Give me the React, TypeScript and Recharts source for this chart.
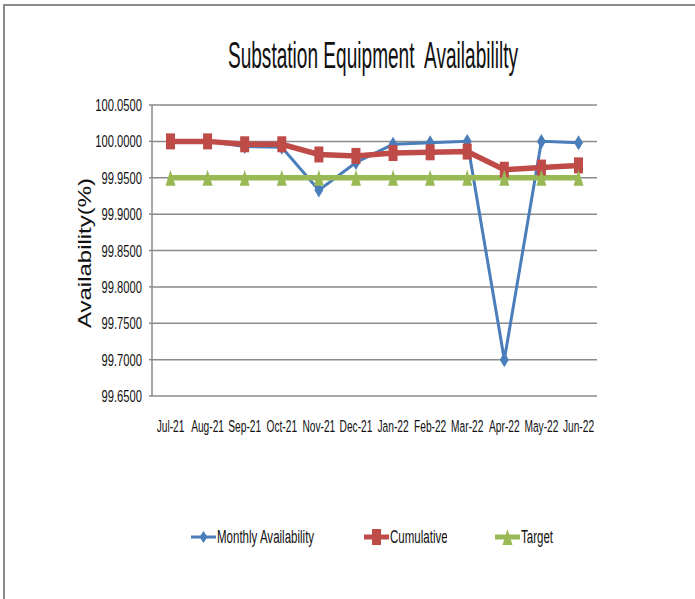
import { LineChart, Line, XAxis, YAxis, CartesianGrid, Legend, Label } from "recharts"

const months = ["Jul-21", "Aug-21", "Sep-21", "Oct-21", "Nov-21", "Dec-21", "Jan-22", "Feb-22", "Mar-22", "Apr-22", "May-22", "Jun-22"]
const monthly = [100.0, 100.0, 99.993, 99.992, 99.933, 99.971, 99.996, 99.998, 100.0, 99.7, 100.0, 99.998]
const cumulative = [100.0, 100.0, 99.996, 99.996, 99.982, 99.98, 99.984, 99.985, 99.986, 99.961, 99.964, 99.967]
const target = [99.95, 99.95, 99.95, 99.95, 99.95, 99.95, 99.95, 99.95, 99.95, 99.95, 99.95, 99.95]
const yTicks = [99.65, 99.7, 99.75, 99.8, 99.85, 99.9, 99.95, 100.0, 100.05]

const data = months.map((m, i) => ({
  month: m,
  monthly: monthly[i],
  cumulative: cumulative[i],
  target: target[i],
}))

const BLUE = "#4A7EBB"
const RED = "#BE4B48"
const GREEN = "#98B954"
const GRID = "#8a8a8a"
const FONT = "'Liberation Sans', Arial, sans-serif"

// squeezed text, the original chart is stretched narrow
function NarrowText({ x, y, text, size, sx, anchor = "middle" }: any) {
  return (
    <text
      transform={`translate(${x},${y}) scale(${sx},1)`}
      textAnchor={anchor}
      fontFamily={FONT}
      fontSize={size}
      fill="#111"
      xmlSpace="preserve"
      style={{ whiteSpace: "pre" }}
    >
      {text}
    </text>
  )
}

const XTick = (props: any) => {
  const { x, y, payload } = props
  return <NarrowText x={x} y={y + 36} text={payload.value} size={17} sx={0.6} />
}

const YTick = (props: any) => {
  const { x, y, payload } = props
  return <NarrowText x={x} y={y + 6} text={Number(payload.value).toFixed(4)} size={16} sx={0.7} anchor="end" />
}

const Diamond = (props: any) => {
  const { cx, cy, index } = props
  if (cx == null || cy == null) return <g key={index} />
  return <path key={index} d={`M${cx},${cy - 7.5} L${cx + 4.5},${cy} L${cx},${cy + 7.5} L${cx - 4.5},${cy} Z`} fill={BLUE} />
}

const Square = (props: any) => {
  const { cx, cy, index } = props
  if (cx == null || cy == null) return <g key={index} />
  return <rect key={index} x={cx - 4.5} y={cy - 8} width={9} height={16} fill={RED} />
}

const Triangle = (props: any) => {
  const { cx, cy, index } = props
  if (cx == null || cy == null) return <g key={index} />
  return <path key={index} d={`M${cx},${cy - 8} L${cx + 5},${cy + 8} L${cx - 5},${cy + 8} Z`} fill={GREEN} />
}

const legendItems = [
  { name: "Monthly Availability", color: BLUE, shape: "diamond", w: 98 },
  { name: "Cumulative", color: RED, shape: "square", w: 56 },
  { name: "Target", color: GREEN, shape: "triangle", w: 34 },
]

function LegendContent() {
  return (
    <div style={{ display: "flex", justifyContent: "center", gap: 47, paddingLeft: 50 }}>
      {legendItems.map((it) => (
        <svg key={it.name} width={28 + it.w} height={26}>
          <line x1={1} y1={13} x2={26} y2={13} stroke={it.color} strokeWidth={it.shape === "diamond" ? 3 : 5} />
          {it.shape === "diamond" && <path d="M13.5,7 L17.5,13 L13.5,19 L9.5,13 Z" fill={it.color} />}
          {it.shape === "square" && <rect x={9} y={5} width={9} height={16} fill={it.color} />}
          {it.shape === "triangle" && <path d="M13.5,5 L18.5,21 L8.5,21 Z" fill={it.color} />}
          <NarrowText x={27} y={19} text={it.name} size={18} sx={0.64} anchor="start" />
        </svg>
      ))}
    </div>
  )
}

export default function App() {
  return (
    <div style={{ position: "absolute", left: 0, top: 0, width: 695, height: 599, background: "#fff", overflow: "hidden" }}>
      <div
        style={{
          position: "absolute",
          left: 3,
          top: 4,
          width: 720,
          height: 620,
          borderTop: `2px solid ${GRID}`,
          borderLeft: `2px solid ${GRID}`,
          boxSizing: "border-box",
        }}
      />
      <svg style={{ position: "absolute", left: 0, top: 0 }} width={695} height={90}>
        <NarrowText x={373} y={68} text="Substation Equipment  Availabililty" size={36} sx={0.53} />
      </svg>
      <div style={{ position: "absolute", left: 0, top: 0 }}>
        <LineChart width={695} height={599} data={data} margin={{ top: 105, right: 98, left: 92, bottom: 173 }}>
          <CartesianGrid vertical={false} stroke={GRID} strokeWidth={1.5} />
          <XAxis
            dataKey="month"
            axisLine={false}
            tickLine={false}
            tickSize={0}
            tickMargin={0}
            height={30}
            interval={0}
            padding={{ left: 18.5, right: 18.5 }}
            tick={<XTick />}
          />
          <YAxis
            domain={[99.65, 100.05]}
            ticks={yTicks}
            width={60}
            axisLine={{ stroke: GRID, strokeWidth: 1.5 }}
            tickLine={{ stroke: GRID, strokeWidth: 1.5 }}
            tickSize={3}
            tickMargin={7}
            tick={<YTick />}
          >
            <Label
              content={() => (
                <text
                  x={85}
                  y={253}
                  transform="rotate(-90 85 253)"
                  textAnchor="middle"
                  dominantBaseline="central"
                  fontFamily={FONT}
                  fontSize={18}
                  textLength={150}
                  lengthAdjust="spacingAndGlyphs"
                  fill="#111"
                >
                  Availability(%)
                </text>
              )}
            />
          </YAxis>
          <Line
            dataKey="monthly"
            name="Monthly Availability"
            stroke={BLUE}
            strokeWidth={3}
            dot={<Diamond />}
            activeDot={false}
            isAnimationActive={false}
          />
          <Line
            dataKey="cumulative"
            name="Cumulative"
            stroke={RED}
            strokeWidth={5.5}
            dot={<Square />}
            activeDot={false}
            isAnimationActive={false}
          />
          <Line
            dataKey="target"
            name="Target"
            stroke={GREEN}
            strokeWidth={5.5}
            dot={<Triangle />}
            activeDot={false}
            isAnimationActive={false}
          />
          <Legend
            layout="horizontal"
            verticalAlign="middle"
            content={<LegendContent />}
            wrapperStyle={{ top: 524, left: 0, width: 695 }}
          />
        </LineChart>
      </div>
    </div>
  )
}
